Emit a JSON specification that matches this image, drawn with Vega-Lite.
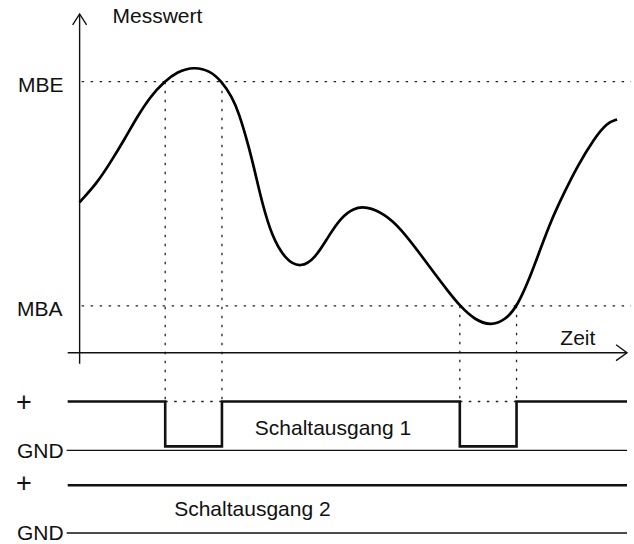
{
  "$schema": "https://vega.github.io/schema/vega-lite/v6.json",
  "width": 634,
  "height": 544,
  "padding": 0,
  "autosize": {"type": "fit", "contains": "padding"},
  "background": "white",
  "config": {"view": {"stroke": null}},
  "datasets": {
    "curve": [
      {"t": 0, "v": 151}, {"t": 18, "v": 171}, {"t": 31, "v": 191}, {"t": 45, "v": 214},
      {"t": 58, "v": 237}, {"t": 71, "v": 257}, {"t": 85, "v": 272}, {"t": 98, "v": 282},
      {"t": 115, "v": 287}, {"t": 131, "v": 283}, {"t": 143, "v": 272}, {"t": 153, "v": 257},
      {"t": 160, "v": 241}, {"t": 170, "v": 207}, {"t": 177, "v": 178}, {"t": 183, "v": 152},
      {"t": 193, "v": 117}, {"t": 207, "v": 93}, {"t": 222, "v": 85}, {"t": 237, "v": 95},
      {"t": 250, "v": 117}, {"t": 263, "v": 136}, {"t": 275, "v": 145}, {"t": 288, "v": 147},
      {"t": 307, "v": 139}, {"t": 323, "v": 124}, {"t": 340, "v": 102}, {"t": 357, "v": 79},
      {"t": 370, "v": 62}, {"t": 382, "v": 47}, {"t": 397, "v": 33}, {"t": 413, "v": 27},
      {"t": 428, "v": 33}, {"t": 440, "v": 47}, {"t": 453, "v": 77}, {"t": 463, "v": 104},
      {"t": 473, "v": 131}, {"t": 487, "v": 161}, {"t": 500, "v": 187}, {"t": 517, "v": 215},
      {"t": 530, "v": 231}, {"t": 540, "v": 234}
    ],
    "dotted": [
      {"s": "MBE", "i": 0, "t": 2, "v": 272}, {"s": "MBE", "i": 1, "t": 554, "v": 272},
      {"s": "MBA", "i": 0, "t": 2, "v": 47}, {"s": "MBA", "i": 1, "t": 554, "v": 47},
      {"s": "a", "i": 0, "t": 86, "v": 272}, {"s": "a", "i": 1, "t": 86, "v": -49},
      {"s": "b", "i": 0, "t": 143, "v": 272}, {"s": "b", "i": 1, "t": 143, "v": -49},
      {"s": "c", "i": 0, "t": 382, "v": 47}, {"s": "c", "i": 1, "t": 382, "v": -49},
      {"s": "d", "i": 0, "t": 439, "v": 47}, {"s": "d", "i": 1, "t": 439, "v": -49},
      {"s": "e", "i": 0, "t": 86, "v": -49}, {"s": "e", "i": 1, "t": 143, "v": -49},
      {"s": "f", "i": 0, "t": 382, "v": -49}, {"s": "f", "i": 1, "t": 439, "v": -49}
    ],
    "thin": [
      {"s": "yaxis", "i": 0, "t": 0, "v": -11}, {"s": "yaxis", "i": 1, "t": 0, "v": 340},
      {"s": "yarrow", "i": 0, "t": -7, "v": 329}, {"s": "yarrow", "i": 1, "t": 0, "v": 340}, {"s": "yarrow", "i": 2, "t": 7, "v": 329},
      {"s": "xaxis", "i": 0, "t": -12, "v": 0}, {"s": "xaxis", "i": 1, "t": 550, "v": 0},
      {"s": "xarrow", "i": 0, "t": 539, "v": 8}, {"s": "xarrow", "i": 1, "t": 550, "v": 0}, {"s": "xarrow", "i": 2, "t": 539, "v": -8},
      {"s": "gnd1", "i": 0, "t": -13, "v": -98}, {"s": "gnd1", "i": 1, "t": 550, "v": -98},
      {"s": "gnd2", "i": 0, "t": -13, "v": -181}, {"s": "gnd2", "i": 1, "t": 550, "v": -181}
    ],
    "thick": [
      {"s": "out1", "i": 0, "t": -12, "v": -49}, {"s": "out1", "i": 1, "t": 86, "v": -49},
      {"s": "out1", "i": 2, "t": 86, "v": -94}, {"s": "out1", "i": 3, "t": 143, "v": -94},
      {"s": "out1", "i": 4, "t": 143, "v": -49}, {"s": "out1", "i": 5, "t": 382, "v": -49},
      {"s": "out1", "i": 6, "t": 382, "v": -94}, {"s": "out1", "i": 7, "t": 439, "v": -94},
      {"s": "out1", "i": 8, "t": 439, "v": -49}, {"s": "out1", "i": 9, "t": 550, "v": -49},
      {"s": "out2", "i": 0, "t": -12, "v": -133}, {"s": "out2", "i": 1, "t": 550, "v": -133}
    ],
    "labels": [
      {"label": "Messwert", "t": 33, "v": 331, "size": "n"},
      {"label": "MBE", "t": -62, "v": 262, "size": "n"},
      {"label": "MBA", "t": -63, "v": 37, "size": "n"},
      {"label": "Zeit", "t": 483, "v": 8, "size": "n"},
      {"label": "+", "t": -64, "v": -59, "size": "p"},
      {"label": "GND", "t": -63, "v": -106, "size": "n"},
      {"label": "Schaltausgang 1", "t": 176, "v": -83, "size": "n"},
      {"label": "+", "t": -64, "v": -140, "size": "p"},
      {"label": "Schaltausgang 2", "t": 95, "v": -164, "size": "n"},
      {"label": "GND", "t": -63, "v": -188, "size": "n"}
    ]
  },
  "encoding": {
    "x": {"field": "t", "type": "quantitative", "scale": {"domain": [-80, 554], "nice": false, "zero": false}, "axis": null},
    "y": {"field": "v", "type": "quantitative", "scale": {"domain": [-190, 354], "nice": false, "zero": false}, "axis": null}
  },
  "layer": [
    {
      "data": {"name": "dotted"},
      "mark": {"type": "line", "color": "#222", "strokeWidth": 1.3, "strokeDash": [2.5, 6.5]},
      "encoding": {"detail": {"field": "s"}, "order": {"field": "i"}}
    },
    {
      "data": {"name": "thin"},
      "mark": {"type": "line", "color": "#111", "strokeWidth": 1.4},
      "encoding": {"detail": {"field": "s"}, "order": {"field": "i"}}
    },
    {
      "data": {"name": "thick"},
      "mark": {"type": "line", "color": "#111", "strokeWidth": 2.6, "strokeJoin": "miter"},
      "encoding": {"detail": {"field": "s"}, "order": {"field": "i"}}
    },
    {
      "data": {"name": "curve"},
      "mark": {"type": "line", "color": "#000", "strokeWidth": 2.7, "interpolate": "basis"},
      "encoding": {"order": {"field": "t"}}
    },
    {
      "data": {"name": "labels"},
      "mark": {"type": "text", "align": "left", "baseline": "alphabetic", "font": "Liberation Sans", "color": "#111"},
      "encoding": {
        "text": {"field": "label"},
        "size": {"field": "size", "type": "nominal", "scale": {"domain": ["n", "p"], "range": [21, 27]}, "legend": null}
      }
    }
  ]
}
